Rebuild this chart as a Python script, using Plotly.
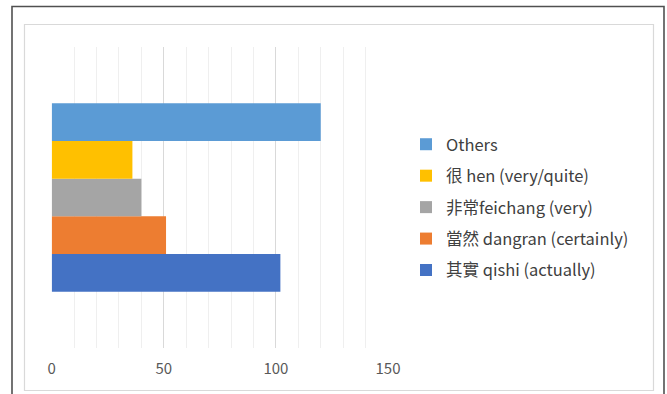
import plotly.graph_objects as go

# Series (drawn bottom to top) and their values
series = ["其實 qishi (actually)", "當然 dangran (certainly)", "非常feichang (very)",
          "很 hen (very/quite)", "Others"]
values = [102, 51, 40, 36, 120]
colors = ["#4472C4", "#ED7D31", "#A5A5A5", "#FFC000", "#5B9BD5"]
tick_vals = [0, 50, 100, 150]
tick_text = ["0", "50", "100", "150"]

W, H = 667, 394
FONT = "Noto Sans CJK TC, Noto Sans, sans-serif"

fig = go.Figure()
for i, (name, val, col) in enumerate(zip(series, values, colors)):
    fig.add_trace(go.Bar(
        x=[val], y=[""], name=name, orientation="h",
        legendgroup=name, legendrank=len(series) - i,  # top bar listed first
        marker=dict(color=col, line=dict(width=0)),
        hoverinfo="x+name",
    ))

def px(x):
    return x / W

def py(y):
    return 1 - y / H

fig.update_layout(
    width=W, height=H,
    margin=dict(l=0, r=0, t=0, b=0),
    paper_bgcolor="white", plot_bgcolor="white",
    barmode="group", bargap=0.373, bargroupgap=0,
    font=dict(family=FONT, color="#595959", size=14),
    xaxis=dict(
        domain=[px(51.7), px(388)], range=[0, 150],
        tickvals=tick_vals, ticktext=tick_text,
        showgrid=True, gridcolor="#d9d9d9", gridwidth=1,
        zeroline=False, showline=False, ticks="",
        ticklabelstandoff=10,
        tickfont=dict(size=15, color="#595959"),
        minor=dict(dtick=10, showgrid=True, gridcolor="#efefef", gridwidth=1),
        automargin=False,
    ),
    yaxis=dict(
        domain=[py(348), py(47)],
        showgrid=False, zeroline=False, showline=False,
        showticklabels=False, ticks="", automargin=False,
    ),
    legend=dict(
        traceorder="grouped",
        x=px(406), y=py(127), xanchor="left", yanchor="top",
        font=dict(size=16.5, color="#404040", family=FONT),
        itemwidth=30, tracegroupgap=7,
        bgcolor="rgba(0,0,0,0)",
    ),
    showlegend=True,
    shapes=[
        # inner chart-area frame
        dict(type="rect", xref="paper", yref="paper",
             x0=px(24.5), x1=px(653.5), y0=py(390.5), y1=py(24.5),
             line=dict(color="#d9d9d9", width=1.2), layer="below"),
        # outer frame
        dict(type="rect", xref="paper", yref="paper",
             x0=px(12), x1=px(664), y0=py(410), y1=py(6.5),
             line=dict(color="#505050", width=1.6), layer="above"),
    ],
)

fig.write_html("out.html")
